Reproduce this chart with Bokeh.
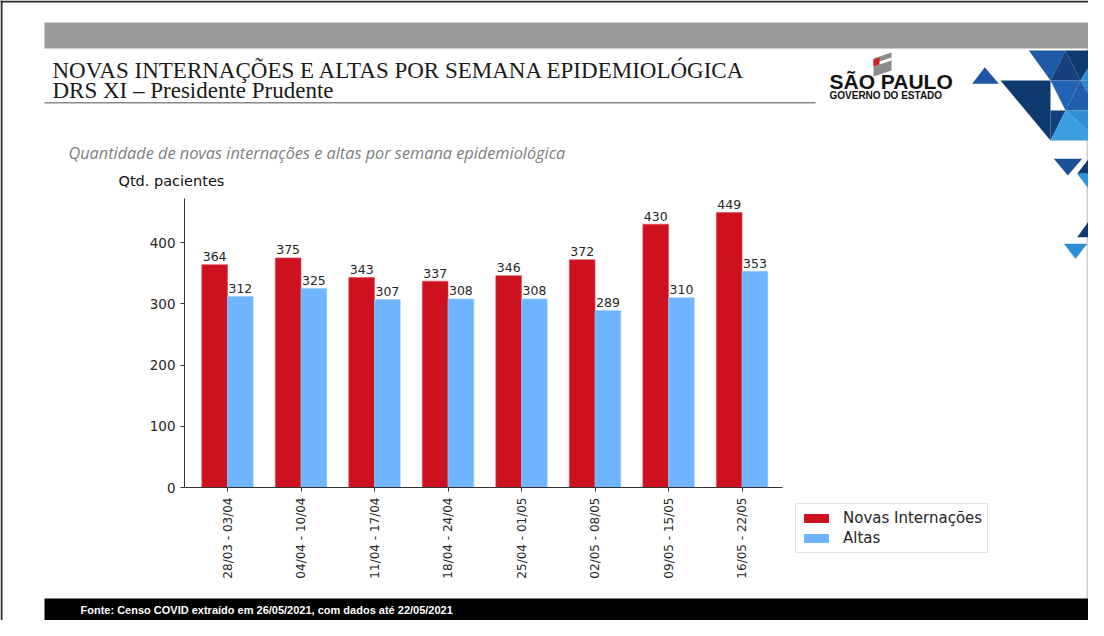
import math
from bokeh.plotting import figure
from bokeh.models import (ColumnDataSource, Range1d, FixedTicker, Legend, LegendItem)
from bokeh.layouts import column
from bokeh.core.properties import value
from bokeh.transform import dodge
from bokeh.embed import file_html
from bokeh.resources import INLINE

# ---------------- data ----------------
weeks = ["28/03 - 03/04", "04/04 - 10/04", "11/04 - 17/04", "18/04 - 24/04",
         "25/04 - 01/05", "02/05 - 08/05", "09/05 - 15/05", "16/05 - 22/05"]
novas = [364, 375, 343, 337, 346, 372, 430, 449]
altas = [312, 325, 307, 308, 308, 289, 310, 353]
series_names = ["Novas Internações", "Altas"]
y_ticks = [0, 100, 200, 300, 400]

title1 = "NOVAS INTERNAÇÕES E ALTAS POR SEMANA EPIDEMIOLÓGICA"
title2 = "DRS XI – Presidente Prudente"
subtitle = "Quantidade de novas internações e altas por semana epidemiológica"
ylabel = "Qtd. pacientes"
source_txt = "Fonte: Censo COVID extraído em 26/05/2021, com dados até 22/05/2021"
logo1 = "SÃO PAULO"
logo2 = "GOVERNO DO ESTADO"

RED = "#CD111F"
BLUE = "#6EB4FF"
TXT = "#262626"

W, H = 1088, 620
FL, FR, FT, FB = 184, 782, 198, 487   # chart frame edges (px)

# ================= decoration layer (slide) =================
d = figure(width=W, height=H, output_backend="svg", toolbar_location=None,
           x_range=Range1d(0, W), y_range=Range1d(H, 0),
           x_axis_type=None, y_axis_type=None, min_border=0,
           background_fill_color="white", border_fill_color="white",
           frame_align=False)
d.outline_line_color = None
d.grid.visible = False

def rect(x0, y0, x1, y1, color):
    d.quad(left=[x0], right=[x1], top=[y0], bottom=[y1], fill_color=color, line_color=None)

rect(0, 0, W, 2, "#2B2B2B")        # window top edge
rect(0, 0, 2, H, "#2B2B2B")        # window left edge
rect(1086, 48, 1088, H, "#D0D0D0") # slide right edge
rect(44, 22, W, 48, "#9A9A9A")     # grey band
rect(44, 101.5, 815, 103, "#8A8A8A") # title underline
rect(44, 598, W, H, "#000000")     # footer

def txt(x, y, s, font, size, color, style="normal", align="left", baseline="alphabetic"):
    d.text(x=[x], y=[y], text=[s], text_font=value(font), text_font_size=size,
           text_color=color, text_font_style=style, text_align=align, text_baseline=baseline)

txt(52, 70, title1, "Liberation Serif", "23px", "#1A1A1A")
txt(52, 90, title2, "Liberation Serif", "23px", "#1A1A1A")
txt(68, 152, subtitle, "Open Sans", "16.3px", "#808080", style="italic")
txt(118, 180, ylabel, "DejaVu Sans", "14.5px", "#111111")
txt(80, 609, source_txt, "Liberation Sans", "11px", "#FFFFFF", style="bold", baseline="middle")
txt(829, 81, logo1, "Liberation Sans", "21px", "#111111", style="bold")
txt(829, 95, logo2, "Liberation Sans", "10px", "#111111", style="bold")

# small flag above logo
d.patch(x=[873, 891, 891, 873], y=[58, 52, 70, 76], fill_color="#8C8C8C", line_color=None)
d.patch(x=[873, 891, 891, 873], y=[63, 57, 60, 66], fill_color="#FFFFFF", line_color=None)
d.patch(x=[873, 879, 879, 873], y=[59, 57, 64, 66], fill_color="#D0202A", line_color=None)

def zt(a, b):
    return (950 + a / 3.0, 20 + b / 3.0)

tris = [
    ([(65, 190), (145, 190), (103, 140)], "#1F56A3"),
    ([(235, 90), (345, 90), (300, 180)], "#1D5AA6"),
    ([(345, 90), (445, 90), (390, 180)], "#0E3A72"),
    ([(300, 180), (390, 180), (345, 90)], "#163F7C"),
    ([(390, 180), (445, 90), (445, 180)], "#2C8ED2"),
    ([(150, 180), (300, 180), (300, 360)], "#0F3A70"),
    ([(300, 180), (390, 180), (345, 270)], "#1F63B2"),
    ([(390, 180), (445, 180), (445, 270)], "#2A88CC"),
    ([(345, 270), (390, 180), (445, 270)], "#1F5EAC"),
    ([(300, 360), (345, 270), (300, 270)], "#12407A"),
    ([(300, 360), (345, 270), (445, 360)], "#3A9EE0"),
    ([(345, 270), (445, 270), (445, 360)], "#2F8FD4"),
    ([(310, 415), (395, 415), (352, 465)], "#1B4F96"),
    ([(380, 460), (445, 375), (445, 460)], "#0F3B73"),
    ([(380, 460), (445, 460), (445, 545)], "#2F94DA"),
    ([(380, 650), (445, 560), (445, 650)], "#0F3B73"),
    ([(340, 670), (410, 670), (375, 715)], "#2E8FD6"),
]
d.patches(xs=[[zt(a, b)[0] for a, b in pts] for pts, c in tris],
          ys=[[zt(a, b)[1] for a, b in pts] for pts, c in tris],
          fill_color=[c for pts, c in tris], line_color=None)

# legend (on the slide layer so that it is not clipped to the chart frame);
# its proxy renderers hold one point placed outside the visible canvas
k1 = d.vbar(x=[-100], top=[-100], bottom=[-110], width=1, fill_color=RED, line_color=RED)
k2 = d.vbar(x=[-100], top=[-100], bottom=[-110], width=1, fill_color=BLUE, line_color=BLUE)
legend = Legend(items=[LegendItem(label=series_names[0], renderers=[k1]),
                       LegendItem(label=series_names[1], renderers=[k2])],
                location=(795, H - 553), orientation="vertical",
                label_text_font="DejaVu Sans", label_text_font_size="15px",
                label_text_color=TXT, glyph_width=30, glyph_height=10,
                padding=5, spacing=2, margin=0, label_standoff=12,
                border_line_color="#CCCCCC", background_fill_color="white",
                background_fill_alpha=1.0, label_height=18)
d.add_layout(legend, "center")

# ================= chart layer =================
src = ColumnDataSource(dict(
    idx=list(range(len(weeks))),
    novas=novas, altas=altas,
    novas_s=[str(v) for v in novas], altas_s=[str(v) for v in altas],
))

p = figure(width=W, height=H, output_backend="svg", toolbar_location=None,
           x_range=Range1d(-0.585, 7.55), y_range=Range1d(0, 472),
           min_border_left=FL, min_border_right=W - FR,
           min_border_top=FT, min_border_bottom=H - FB,
           background_fill_alpha=0, border_fill_alpha=0,
           margin=(-H, 0, 0, 0), frame_align=False)
p.outline_line_color = None
p.grid.grid_line_color = None

r1 = p.vbar(x=dodge("idx", -0.175, range=p.x_range), top="novas", width=0.35,
            source=src, fill_color=RED, line_color="#E0505A", line_width=0.6)
r2 = p.vbar(x=dodge("idx", 0.175, range=p.x_range), top="altas", width=0.35,
            source=src, fill_color=BLUE, line_color="#9ACBFF", line_width=0.6)

for col, lab, off in (("novas", "novas_s", -0.175), ("altas", "altas_s", 0.175)):
    p.text(x=dodge("idx", off, range=p.x_range), y=col, text=lab, source=src,
           y_offset=-8, text_align="center", text_baseline="alphabetic",
           text_font=value("DejaVu Sans"), text_font_size="12.5px", text_color=TXT)

p.xaxis.ticker = FixedTicker(ticks=list(range(len(weeks))))
p.xaxis.major_label_overrides = {i: w for i, w in enumerate(weeks)}
p.xaxis.major_label_orientation = math.pi / 2
p.yaxis.ticker = FixedTicker(ticks=y_ticks)
for ax in (p.xaxis[0], p.yaxis[0]):
    ax.axis_line_color = "#333333"
    ax.major_tick_line_color = "#333333"
    ax.major_tick_out = 4
    ax.major_tick_in = 0
    ax.minor_tick_line_color = None
    ax.major_label_text_font = "DejaVu Sans"
    ax.major_label_text_color = TXT
p.xaxis.major_label_text_font_size = "12px"
p.xaxis.major_label_standoff = 6
p.yaxis.major_label_text_font_size = "13.5px"
p.yaxis.major_label_standoff = 5

layout = column(d, p, spacing=0)
open("out.html", "w").write(file_html(layout, INLINE))
